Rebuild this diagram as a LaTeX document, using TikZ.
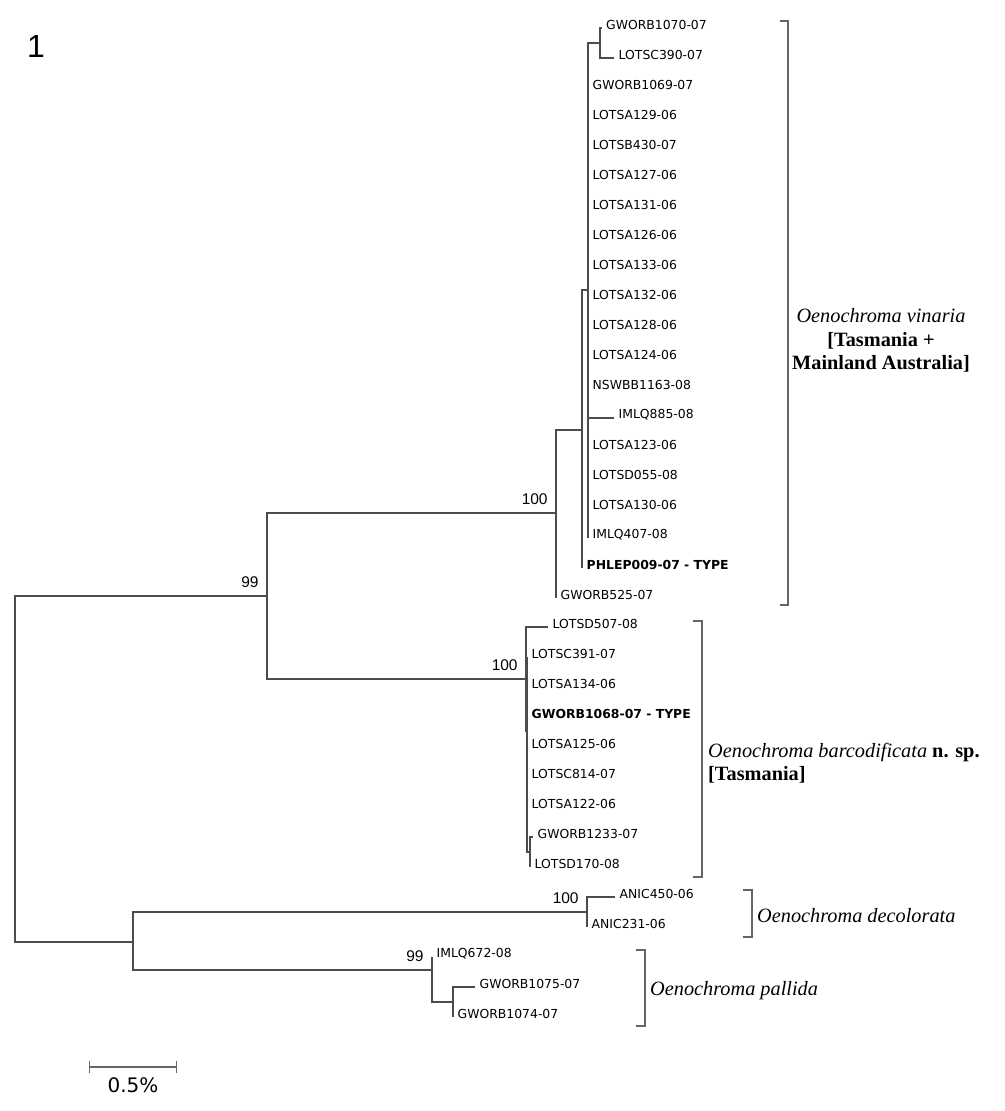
\documentclass[tikz,border=0pt]{standalone}
\usepackage{fontspec}
\setmainfont{Liberation Serif}
\newfontfamily\taxfont{DejaVu Sans}
\newfontfamily\numfont{Liberation Sans}
\usetikzlibrary{arrows.meta}

\tikzset{
  branch/.style={draw=black!70,line width=1.1pt},
  bracket/.style={draw=black!60,line width=1.3pt},
  taxon/.style={font=\taxfont\fontsize{12.4}{14}\selectfont,inner sep=0pt,yshift=3pt},
  typetaxon/.style={taxon,font=\taxfont\bfseries\fontsize{12.4}{14}\selectfont},
  boot/.style={font=\numfont\fontsize{15.5}{18}\selectfont,inner sep=5pt},
  species/.style={font=\fontsize{20.3}{23.5}\selectfont,inner sep=0pt,anchor=base west}
}

\begin{document}
\begin{tikzpicture}[x=1pt,y=-1pt,label distance=4.5pt]
    \useasboundingbox (0,0) rectangle (1004,1111);
    \node [font=\numfont\fontsize{32}{34}\selectfont] (panel) at (36,46) {1};
    % internal nodes of the tree
    \coordinate (R) at (15,769);
    \coordinate [label={[boot]above left:99}] (n99) at (267,596);
    \coordinate [label={[boot]above left:100}] (nA) at (556,513);
    \coordinate (nB) at (582,430);
    \coordinate (nC) at (588,290);
    \coordinate (nD) at (600,43);
    \coordinate [label={[boot]above left:100}] (nE) at (526,679);
    \coordinate (nF) at (527,731);
    \coordinate (nG) at (530,852);
    \coordinate (nH) at (133,942);
    \coordinate [label={[boot]above left:100}] (nI) at (587,912);
    \coordinate [label={[boot]above left:99}] (nJ) at (432,970);
    \coordinate (nK) at (453,1002);
    % tips
    \coordinate [label={[taxon]right:GWORB1070-07}] (t0) at (601.5,28);
    \coordinate [label={[taxon]right:LOTSC390-07}] (t1) at (614,58);
    \coordinate [label={[taxon]right:GWORB1069-07}] (t2) at (588,88);
    \coordinate [label={[taxon]right:LOTSA129-06}] (t3) at (588,118);
    \coordinate [label={[taxon]right:LOTSB430-07}] (t4) at (588,148);
    \coordinate [label={[taxon]right:LOTSA127-06}] (t5) at (588,178);
    \coordinate [label={[taxon]right:LOTSA131-06}] (t6) at (588,208);
    \coordinate [label={[taxon]right:LOTSA126-06}] (t7) at (588,238);
    \coordinate [label={[taxon]right:LOTSA133-06}] (t8) at (588,268);
    \coordinate [label={[taxon]right:LOTSA132-06}] (t9) at (588,298);
    \coordinate [label={[taxon]right:LOTSA128-06}] (t10) at (588,328);
    \coordinate [label={[taxon]right:LOTSA124-06}] (t11) at (588,358);
    \coordinate [label={[taxon]right:NSWBB1163-08}] (t12) at (588,388);
    \coordinate [label={[taxon]right:IMLQ885-08}] (t13) at (614,418);
    \coordinate [label={[taxon]right:LOTSA123-06}] (t14) at (588,448);
    \coordinate [label={[taxon]right:LOTSD055-08}] (t15) at (588,478);
    \coordinate [label={[taxon]right:LOTSA130-06}] (t16) at (588,508);
    \coordinate [label={[taxon]right:IMLQ407-08}] (t17) at (588,538);
    \coordinate [label={[typetaxon]right:PHLEP009-07 - TYPE}] (t18) at (582,568);
    \coordinate [label={[taxon]right:GWORB525-07}] (t19) at (556,598);
    \coordinate [label={[taxon]right:LOTSD507-08}] (t20) at (548,627);
    \coordinate [label={[taxon]right:LOTSC391-07}] (t21) at (527,657);
    \coordinate [label={[taxon]right:LOTSA134-06}] (t22) at (527,687);
    \coordinate [label={[typetaxon]right:GWORB1068-07 - TYPE}] (t23) at (527,717);
    \coordinate [label={[taxon]right:LOTSA125-06}] (t24) at (527,747);
    \coordinate [label={[taxon]right:LOTSC814-07}] (t25) at (527,777);
    \coordinate [label={[taxon]right:LOTSA122-06}] (t26) at (527,807);
    \coordinate [label={[taxon]right:GWORB1233-07}] (t27) at (533,837);
    \coordinate [label={[taxon]right:LOTSD170-08}] (t28) at (530,867);
    \coordinate [label={[taxon]right:ANIC450-06}] (t29) at (615,897);
    \coordinate [label={[taxon]right:ANIC231-06}] (t30) at (587,927);
    \coordinate [label={[taxon]right:IMLQ672-08}] (t31) at (432,957);
    \coordinate [label={[taxon]right:GWORB1075-07}] (t32) at (475,987);
    \coordinate [label={[taxon]right:GWORB1074-07}] (t33) at (453,1017);
    % branches
    \draw [branch] (R) |- (n99) (R) |- (nH);
    \draw [branch] (n99) |- (nA) (n99) |- (nE);
    \draw [branch] (nA) |- (nB) (nA) |- (t19);
    \draw [branch] (nB) |- (nC) (nB) |- (t18);
    \draw [branch] (nC) |- (nD) (nC) |- (t2) (nC) |- (t3) (nC) |- (t4) (nC) |- (t5) (nC) |- (t6);
    \draw [branch] (nC) |- (t7) (nC) |- (t8) (nC) |- (t9) (nC) |- (t10) (nC) |- (t11) (nC) |- (t12);
    \draw [branch] (nC) |- (t13) (nC) |- (t14) (nC) |- (t15) (nC) |- (t16) (nC) |- (t17);
    \draw [branch] (nD) |- (t0) (nD) |- (t1);
    \draw [branch] (nE) |- (t20) (nE) |- (nF);
    \draw [branch] (nF) |- (t21) (nF) |- (t22) (nF) |- (t23) (nF) |- (t24) (nF) |- (t25) (nF) |- (t26) (nF) |- (nG);
    \draw [branch] (nG) |- (t27) (nG) |- (t28);
    \draw [branch] (nH) |- (nI) (nH) |- (nJ);
    \draw [branch] (nI) |- (t29) (nI) |- (t30);
    \draw [branch] (nJ) |- (t31) (nJ) |- (nK);
    \draw [branch] (nK) |- (t32) (nK) |- (t33);
    % species brackets
    \draw [bracket] (780,21) -- (788,21) -- (788,605) -- (780,605);
    \draw [bracket] (693,621) -- (702,621) -- (702,877) -- (693,877);
    \draw [bracket] (743,890) -- (752,890) -- (752,937) -- (743,937);
    \draw [bracket] (636,950) -- (645,950) -- (645,1026) -- (636,1026);
    \node [species,anchor=base] (vinA) at (881,322) {\textit{Oenochroma vinaria}};
    \node [species,anchor=base] (vinB) at (881,346) {\textbf{[Tasmania +}};
    \node [species,anchor=base] (vinC) at (881,369) {\textbf{Mainland Australia]}};
    \node [species] (barA) at (708,757) {\textit{Oenochroma barcodificata} \textbf{n. sp.}};
    \node [species] (barB) at (708,780) {\textbf{[Tasmania]}};
    \node [species] (dec) at (757,922) {\textit{Oenochroma decolorata}};
    \node [species] (pal) at (650,995) {\textit{Oenochroma pallida}};
    % scale bar
    \coordinate (sb0) at (89,1067);
    \coordinate (sb1) at (177,1067);
    \draw [bracket,line width=1.1pt,{Bar[width=12pt]}-{Bar[width=12pt]}] (sb0) -- (sb1);
    \node [font=\taxfont\fontsize{20}{24}\selectfont] (sblab) at (133,1085.5) {0.5\%};
\end{tikzpicture}
\end{document}
